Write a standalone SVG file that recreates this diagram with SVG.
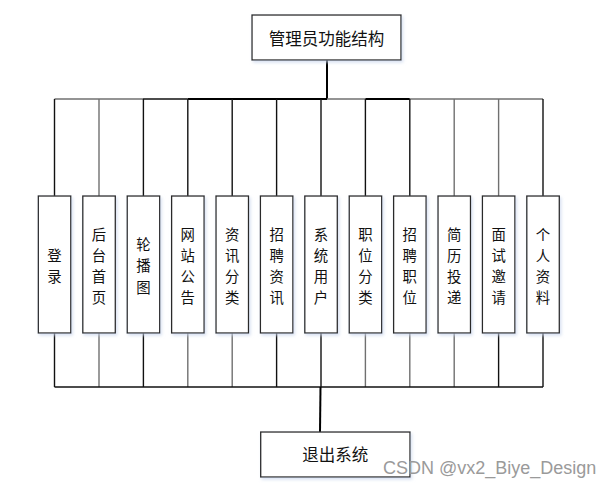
<svg xmlns="http://www.w3.org/2000/svg" width="615" height="487" viewBox="0 0 615 487">
<style>
.box{fill:#fff;stroke:#2a2a2a;stroke-width:1.3}
.t{font-family:"Noto Sans CJK SC","Noto Sans",sans-serif;font-size:16.5px;fill:#111;text-anchor:middle;dominant-baseline:central}
.c{font-family:"Noto Sans CJK SC","Noto Sans",sans-serif;font-size:14.4px;fill:#111;text-anchor:middle;dominant-baseline:central}
.dk{stroke:#111;stroke-width:1.4;fill:none}
.gr{stroke:#707070;stroke-width:1.4;fill:none}
.bk{stroke:#000;stroke-width:2;fill:none}
.wm{font-family:"Liberation Sans",Arial,sans-serif;font-size:18px;fill:#9a9a9a}
</style>
<defs>
<filter id="sh" x="-20%" y="-20%" width="140%" height="140%">
<feDropShadow dx="1.5" dy="2" stdDeviation="1.5" flood-color="#c8d4ec" flood-opacity="0.7"/>
</filter>
</defs>
<g id="connectors">
<path class="bk" d="M327 60V99"/>
<path class="gr" d="M54.5 99H143"/>
<path class="dk" d="M143 99H187.8"/>
<path class="bk" d="M187.8 99H327"/>
<path class="gr" d="M327 99H365.4"/>
<path class="bk" d="M365.4 99H409.8"/>
<path class="gr" d="M409.8 99H543"/>
<path class="dk" d="M54.5 99V196"/>
<path class="gr" d="M99 99V196"/>
<path class="dk" d="M143.4 99V196"/>
<path class="dk" d="M187.8 99V196"/>
<path class="dk" d="M232.2 99V196"/>
<path class="dk" d="M276.6 99V196"/>
<path class="dk" d="M321 99V196"/>
<path class="dk" d="M365.4 99V196"/>
<path class="dk" d="M409.8 99V196"/>
<path class="gr" d="M454.2 99V196"/>
<path class="gr" d="M498.6 99V196"/>
<path class="dk" d="M543 99V196"/>
<path class="dk" d="M54.5 333V387"/>
<path class="gr" d="M99 333V387"/>
<path class="dk" d="M143.4 333V387"/>
<path class="gr" d="M187.8 333V387"/>
<path class="gr" d="M232.2 333V387"/>
<path class="dk" d="M276.6 333V387"/>
<path class="dk" d="M321 333V387"/>
<path class="gr" d="M365.4 333V387"/>
<path class="gr" d="M409.8 333V387"/>
<path class="gr" d="M454.2 333V387"/>
<path class="dk" d="M498.6 333V387"/>
<path class="dk" d="M543 333V387"/>
<path class="dk" d="M54.5 387H543"/>
<path class="bk" d="M320.5 387L320 432"/>
</g>
<g id="n-top">
<rect class="box" filter="url(#sh)" x="252" y="15" width="149" height="45"/>
<text class="t" x="326.5" y="38">管理员功能结构</text>
</g>
<g id="n1"><rect class="box" filter="url(#sh)" x="38.3" y="196" width="32.5" height="137"/>
<text class="c" x="54.5" y="254">登</text><text class="c" x="54.5" y="275">录</text></g>
<g id="n2"><rect class="box" filter="url(#sh)" x="82.8" y="196" width="32.5" height="137"/>
<text class="c" x="99" y="233">后</text><text class="c" x="99" y="254">台</text><text class="c" x="99" y="275">首</text><text class="c" x="99" y="296">页</text></g>
<g id="n3"><rect class="box" filter="url(#sh)" x="127.2" y="196" width="32.5" height="137"/>
<text class="c" x="143.4" y="243">轮</text><text class="c" x="143.4" y="264.5">播</text><text class="c" x="143.4" y="286">图</text></g>
<g id="n4"><rect class="box" filter="url(#sh)" x="171.6" y="196" width="32.5" height="137"/>
<text class="c" x="187.8" y="233">网</text><text class="c" x="187.8" y="254">站</text><text class="c" x="187.8" y="275">公</text><text class="c" x="187.8" y="296">告</text></g>
<g id="n5"><rect class="box" filter="url(#sh)" x="216" y="196" width="32.5" height="137"/>
<text class="c" x="232.2" y="233">资</text><text class="c" x="232.2" y="254">讯</text><text class="c" x="232.2" y="275">分</text><text class="c" x="232.2" y="296">类</text></g>
<g id="n6"><rect class="box" filter="url(#sh)" x="260.4" y="196" width="32.5" height="137"/>
<text class="c" x="276.6" y="233">招</text><text class="c" x="276.6" y="254">聘</text><text class="c" x="276.6" y="275">资</text><text class="c" x="276.6" y="296">讯</text></g>
<g id="n7"><rect class="box" filter="url(#sh)" x="304.8" y="196" width="32.5" height="137"/>
<text class="c" x="321" y="233">系</text><text class="c" x="321" y="254">统</text><text class="c" x="321" y="275">用</text><text class="c" x="321" y="296">户</text></g>
<g id="n8"><rect class="box" filter="url(#sh)" x="349.2" y="196" width="32.5" height="137"/>
<text class="c" x="365.4" y="233">职</text><text class="c" x="365.4" y="254">位</text><text class="c" x="365.4" y="275">分</text><text class="c" x="365.4" y="296">类</text></g>
<g id="n9"><rect class="box" filter="url(#sh)" x="393.6" y="196" width="32.5" height="137"/>
<text class="c" x="409.8" y="233">招</text><text class="c" x="409.8" y="254">聘</text><text class="c" x="409.8" y="275">职</text><text class="c" x="409.8" y="296">位</text></g>
<g id="n10"><rect class="box" filter="url(#sh)" x="438" y="196" width="32.5" height="137"/>
<text class="c" x="454.2" y="233">简</text><text class="c" x="454.2" y="254">历</text><text class="c" x="454.2" y="275">投</text><text class="c" x="454.2" y="296">递</text></g>
<g id="n11"><rect class="box" filter="url(#sh)" x="482.4" y="196" width="32.5" height="137"/>
<text class="c" x="498.6" y="233">面</text><text class="c" x="498.6" y="254">试</text><text class="c" x="498.6" y="275">邀</text><text class="c" x="498.6" y="296">请</text></g>
<g id="n12"><rect class="box" filter="url(#sh)" x="526.8" y="196" width="32.5" height="137"/>
<text class="c" x="543" y="233">个</text><text class="c" x="543" y="254">人</text><text class="c" x="543" y="275">资</text><text class="c" x="543" y="296">料</text></g>
<g id="n-exit">
<rect class="box" filter="url(#sh)" x="260.7" y="432" width="149.3" height="45"/>
<text class="t" x="335.3" y="454">退出系统</text>
</g>
<text class="wm" x="383" y="473.5">CSDN @vx2_Biye_Design</text>
</svg>
